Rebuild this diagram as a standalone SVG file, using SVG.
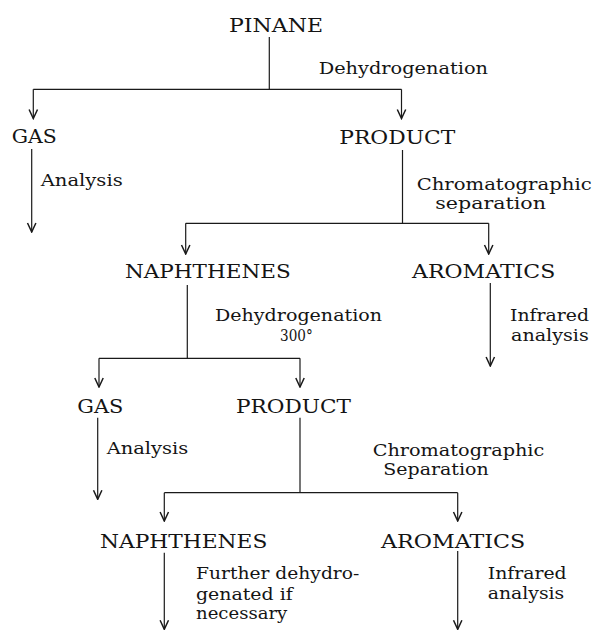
<svg xmlns="http://www.w3.org/2000/svg" width="593" height="632" viewBox="0 0 593 632">
<style>
  text { font-family: "DejaVu Serif", "Liberation Serif", serif; fill: #141414; }
  .node { font-size: 19px; }
  .lbl { font-size: 17px; }
  .c { stroke: #1a1a1a; stroke-width: 1.2; fill: none; }
  .a { marker-end: url(#arr); }
</style>
<defs>
  <marker id="arr" markerUnits="userSpaceOnUse" viewBox="-11 -6 12 12" refX="0" refY="0" markerWidth="12" markerHeight="12" orient="auto">
    <path d="M-9,-4.2 L0,0 L-9,4.2" fill="none" stroke="#1a1a1a" stroke-width="1.5"/>
  </marker>
</defs>
<rect width="593" height="632" fill="#ffffff"/>

<g id="connectors">
  <line class="c" x1="269.3" y1="37" x2="269.3" y2="89.3"/>
  <line class="c" x1="33.3" y1="89.3" x2="401.5" y2="89.3"/>
  <line class="c a" x1="33.3" y1="89.3" x2="33.3" y2="118.5"/>
  <line class="c a" x1="401.5" y1="89.3" x2="401.5" y2="118.5"/>

  <line class="c a" x1="31.7" y1="149" x2="31.7" y2="232"/>

  <line class="c" x1="402.5" y1="150" x2="402.5" y2="223.3"/>
  <line class="c" x1="185.7" y1="223.3" x2="488.7" y2="223.3"/>
  <line class="c a" x1="185.7" y1="223.3" x2="185.7" y2="254"/>
  <line class="c a" x1="488.7" y1="223.3" x2="488.7" y2="254"/>

  <line class="c" x1="187.3" y1="285" x2="187.3" y2="358.3"/>
  <line class="c" x1="99" y1="358.3" x2="300" y2="358.3"/>
  <line class="c a" x1="99" y1="358.3" x2="99" y2="387"/>
  <line class="c a" x1="300" y1="358.3" x2="300" y2="387"/>

  <line class="c a" x1="490.3" y1="283" x2="490.3" y2="366"/>

  <line class="c a" x1="97.7" y1="417.7" x2="97.7" y2="499.3"/>

  <line class="c" x1="300" y1="417.7" x2="300" y2="492.7"/>
  <line class="c" x1="164.3" y1="492.7" x2="457.7" y2="492.7"/>
  <line class="c a" x1="164.3" y1="492.7" x2="164.3" y2="521"/>
  <line class="c a" x1="457.7" y1="492.7" x2="457.7" y2="521"/>

  <line class="c a" x1="164.3" y1="552.7" x2="164.3" y2="629.3"/>
  <line class="c a" x1="457.7" y1="551" x2="457.7" y2="629.3"/>
</g>

<g id="pinane"><text class="node" x="229" y="32" textLength="94" lengthAdjust="spacingAndGlyphs">PINANE</text></g>
<g id="gas1"><text class="node" x="11.7" y="143.3" textLength="45" lengthAdjust="spacingAndGlyphs">GAS</text></g>
<g id="product1"><text class="node" x="339.3" y="144" textLength="116" lengthAdjust="spacingAndGlyphs">PRODUCT</text></g>
<g id="naphthenes1"><text class="node" x="125" y="278.3" textLength="165.7" lengthAdjust="spacingAndGlyphs">NAPHTHENES</text></g>
<g id="aromatics1"><text class="node" x="412" y="278.3" textLength="143.3" lengthAdjust="spacingAndGlyphs">AROMATICS</text></g>
<g id="gas2"><text class="node" x="77.3" y="412.7" textLength="46" lengthAdjust="spacingAndGlyphs">GAS</text></g>
<g id="product2"><text class="node" x="236" y="412.7" textLength="115" lengthAdjust="spacingAndGlyphs">PRODUCT</text></g>
<g id="naphthenes2"><text class="node" x="100" y="547.7" textLength="167.3" lengthAdjust="spacingAndGlyphs">NAPHTHENES</text></g>
<g id="aromatics2"><text class="node" x="381" y="547.7" textLength="144.3" lengthAdjust="spacingAndGlyphs">AROMATICS</text></g>

<g id="labels">
  <text class="lbl" x="318.7" y="74" textLength="169.3" lengthAdjust="spacingAndGlyphs">Dehydrogenation</text>
  <text class="lbl" x="40.7" y="186" textLength="82" lengthAdjust="spacingAndGlyphs">Analysis</text>
  <text class="lbl" x="416.7" y="190" textLength="175" lengthAdjust="spacingAndGlyphs">Chromatographic</text>
  <text class="lbl" x="435.3" y="208.5" textLength="110.7" lengthAdjust="spacingAndGlyphs">separation</text>
  <text class="lbl" x="215" y="321" textLength="167" lengthAdjust="spacingAndGlyphs">Dehydrogenation</text>
  <text class="lbl" x="280" y="341" textLength="32.7" lengthAdjust="spacingAndGlyphs">300°</text>
  <text class="lbl" x="510" y="321" textLength="79" lengthAdjust="spacingAndGlyphs">Infrared</text>
  <text class="lbl" x="511" y="341" textLength="77.7" lengthAdjust="spacingAndGlyphs">analysis</text>
  <text class="lbl" x="106.7" y="454.3" textLength="81.6" lengthAdjust="spacingAndGlyphs">Analysis</text>
  <text class="lbl" x="372.7" y="456" textLength="171.6" lengthAdjust="spacingAndGlyphs">Chromatographic</text>
  <text class="lbl" x="383.3" y="475.3" textLength="105.4" lengthAdjust="spacingAndGlyphs">Separation</text>
  <text class="lbl" x="196" y="579.3" textLength="163.3" lengthAdjust="spacingAndGlyphs">Further dehydro-</text>
  <text class="lbl" x="196" y="600" textLength="96.7" lengthAdjust="spacingAndGlyphs">genated if</text>
  <text class="lbl" x="196" y="619.3" textLength="91.3" lengthAdjust="spacingAndGlyphs">necessary</text>
  <text class="lbl" x="487.7" y="579.3" textLength="79" lengthAdjust="spacingAndGlyphs">Infrared</text>
  <text class="lbl" x="487.7" y="599.3" textLength="76.6" lengthAdjust="spacingAndGlyphs">analysis</text>
</g>
</svg>
